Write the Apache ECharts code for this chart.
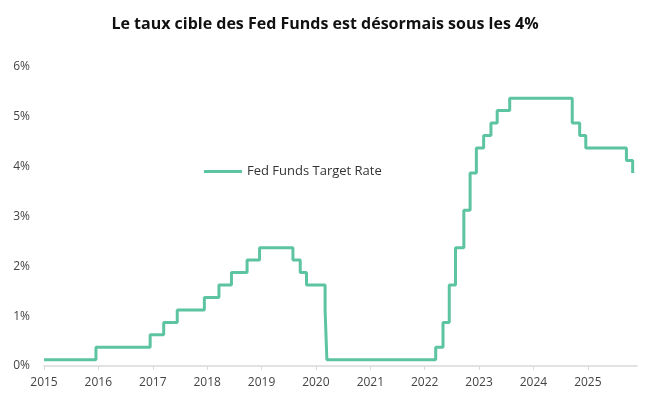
<!DOCTYPE html>
<html lang="fr">
  <head>
    <meta charset="UTF-8" />
    <title>Fed Funds Target Rate</title>
    <script src="https://cdn.jsdelivr.net/npm/echarts@6/dist/echarts.min.js"></script>
    <style>
      * { margin: 0; padding: 0; box-sizing: border-box; }
      body { background: #fff; overflow: hidden; }
      #chart { width: 650px; height: 399px; }
    </style>
  </head>
  <body>
    <div id="chart"></div>
    <script>
      // dates of each change in the target rate (midpoint of the range, %)
      const changeDates = [
        "2015-01-01", "2015-12-16", "2016-12-14", "2017-03-15", "2017-06-14",
        "2017-12-13", "2018-03-21", "2018-06-13", "2018-09-26", "2018-12-19",
        "2019-07-31", "2019-09-18", "2019-10-30", "2020-03-03", "2020-03-15",
        "2022-03-16", "2022-05-04", "2022-06-15", "2022-07-27", "2022-09-21",
        "2022-11-02", "2022-12-14", "2023-02-01", "2023-03-22", "2023-05-03",
        "2023-07-26", "2024-09-18", "2024-11-07", "2024-12-18", "2025-09-17",
        "2025-10-29"
      ];
      const rates = [
        0.125, 0.375, 0.625, 0.875, 1.125,
        1.375, 1.625, 1.875, 2.125, 2.375,
        2.125, 1.875, 1.625, 1.125, 0.125,
        0.375, 0.875, 1.625, 2.375, 3.125,
        3.875, 4.375, 4.625, 4.875, 5.125,
        5.375, 4.875, 4.625, 4.375, 4.125,
        3.875
      ];
      const seriesName = "Fed Funds Target Rate";
      const lineColor = "#5cc4a0";
      const font = "'Open Sans', sans-serif";

      const chart = echarts.init(document.getElementById("chart"));
      const year = 365.25 * 24 * 3600 * 1000;

      chart.setOption({
        animation: false,
        title: {
          text: "Le taux cible des Fed Funds est désormais sous les 4%",
          left: "center",
          top: 11,
          textStyle: { fontFamily: font, fontSize: 16, fontWeight: "bold", color: "#111" },
        },
        legend: {
          left: 199,
          top: 160,
          itemWidth: 38,
          itemHeight: 3,
          itemGap: 4,
          icon: "rect",
          textStyle: { fontFamily: font, fontSize: 13, color: "#333" },
          data: [seriesName],
        },
        grid: { left: 44, right: 13, top: 67, bottom: 33 },
        xAxis: {
          type: "time",
          min: "2015-01-01",
          max: "2025-11-27",
          minInterval: year * 0.99,
          maxInterval: year * 1.01,
          splitLine: { show: false },
          axisLine: { lineStyle: { color: "#d9d9d9", width: 1.5 } },
          axisTick: { show: true, length: 4, lineStyle: { color: "#d9d9d9" } },
          axisLabel: {
            formatter: "{yyyy}",
            color: "#444",
            fontFamily: font,
            fontSize: 12,
            margin: 11,
            showMaxLabel: false,
          },
        },
        yAxis: {
          type: "value",
          min: 0,
          max: 6,
          interval: 1,
          splitLine: { show: false },
          axisLine: { show: false },
          axisTick: { show: false },
          axisLabel: {
            formatter: "{value}%",
            color: "#444",
            fontFamily: font,
            fontSize: 12,
            margin: 14,
          },
        },
        series: [
          {
            name: seriesName,
            type: "line",
            step: "end",
            symbol: "none",
            color: lineColor,
            lineStyle: { width: 3, color: lineColor },
            data: changeDates.map((d, i) => [d, rates[i]]),
          },
        ],
      });
    </script>
  </body>
</html>
